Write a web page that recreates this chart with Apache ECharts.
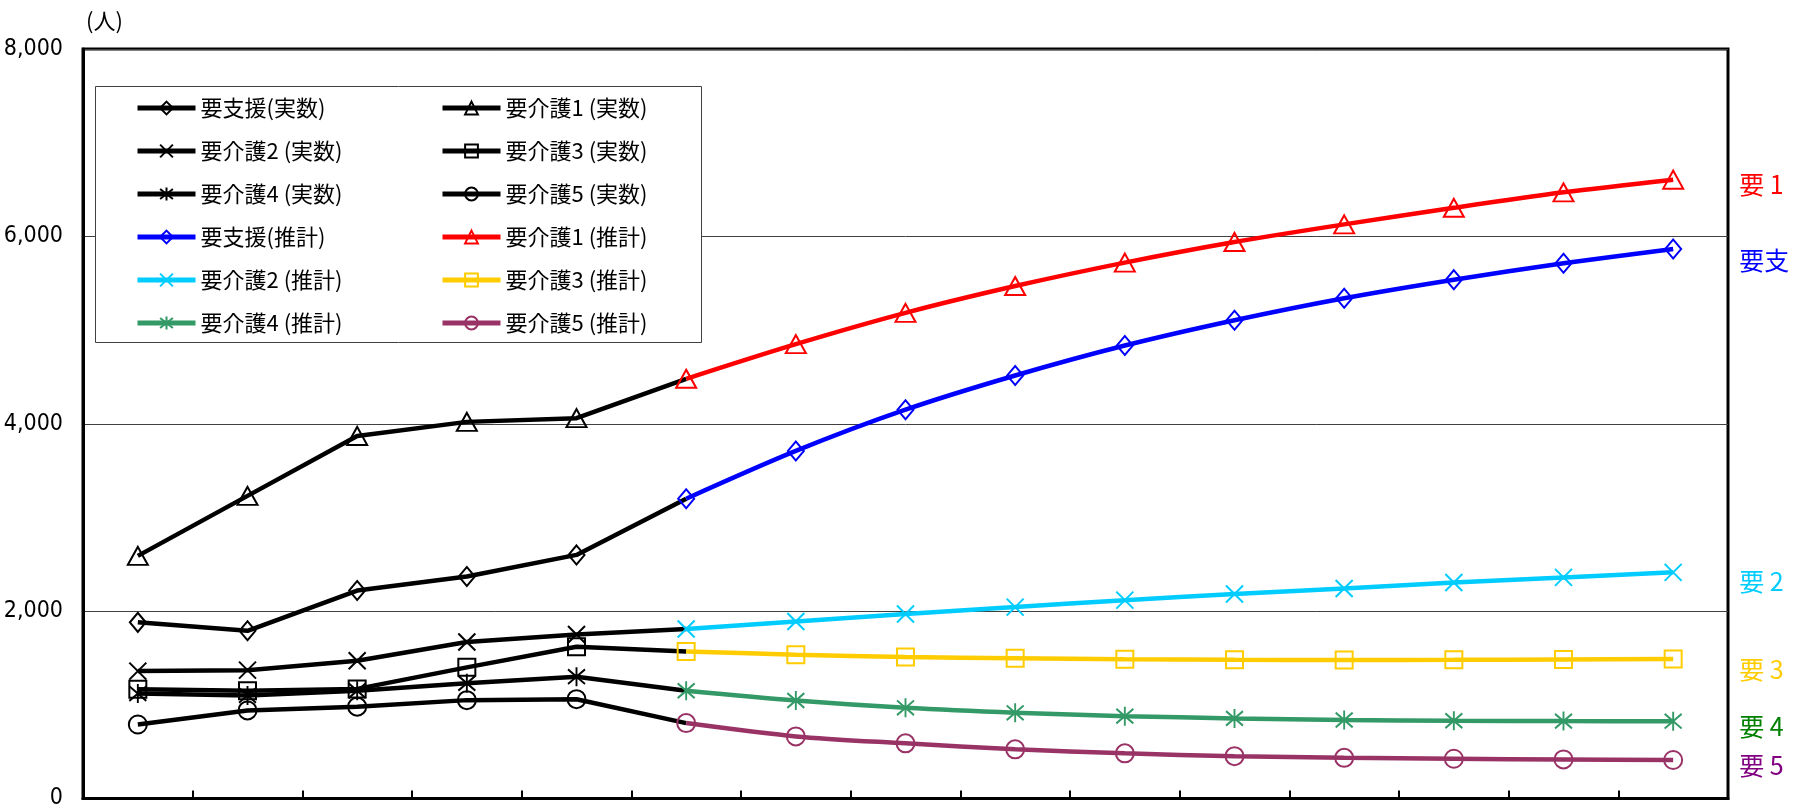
<!DOCTYPE html>
<html><head><meta charset="utf-8">
<script src="https://cdn.jsdelivr.net/npm/echarts@6/dist/echarts.min.js"></script>
<style>html,body{margin:0;padding:0;background:#fff}#c{width:1796px;height:810px}</style>
</head><body><div id="c"></div>
<script>
const categories = ['1','2','3','4','5','6','7','8','9','10','11','12','13','14','15'];
const yTicks = [0, 2000, 4000, 6000, 8000];

// 実数 (actual) – last entry is the first estimate point (line joins it)
const yoshienAct = [1880, 1790, 2220, 2370, 2600, 3200];
const kaigo1Act  = [2590, 3230, 3870, 4020, 4060, 4480];
const kaigo2Act  = [1360, 1370, 1470, 1670, 1750, 1810];
const kaigo3Act  = [1165, 1150, 1170, 1400, 1620, 1570];
const kaigo4Act  = [1120, 1100, 1150, 1230, 1300, 1150];
const kaigo5Act  = [790, 940, 980, 1050, 1060, 805];

// 推計 (estimate) – from category 6 to 15
const yoshienEst = [3200, 3710, 4150, 4515, 4835, 5105, 5340, 5538, 5713, 5865];
const kaigo1Est  = [4480, 4850, 5184, 5470, 5720, 5940, 6128, 6305, 6470, 6605];
const kaigo2Est  = [1810, 1890, 1970, 2043, 2117, 2182, 2242, 2305, 2360, 2414];
const kaigo3Est  = [1570, 1535, 1510, 1496, 1486, 1480, 1478, 1480, 1484, 1488];
const kaigo4Est  = [1150, 1046, 968, 915, 879, 855, 838, 830, 826, 825];
const kaigo5Est  = [805, 663, 589, 525, 482, 452, 434, 424, 417, 411];

const actNames = ['要支援(実数)','要介護1 (実数)','要介護2 (実数)','要介護3 (実数)','要介護4 (実数)','要介護5 (実数)'];
const estNames = ['要支援(推計)','要介護1 (推計)','要介護2 (推計)','要介護3 (推計)','要介護4 (推計)','要介護5 (推計)'];
const endLabels = ['要支','要 1','要 2','要 3','要 4','要 5'];

const X_PATH = 'path://M0,0L10,10M10,0L0,10';
const STAR_PATH = 'path://M0,0L10,10M10,0L0,10M5,-1.5L5,11.5';
const symbols = ['diamond','triangle',X_PATH,'rect',STAR_PATH,'circle'];
const symSizes = [[16,19],[20,18],[17,17],[17,17],[17,19],[18,18]];
const estColors = ['#0000FF','#FF0000','#00CCFF','#FFCC00','#339966','#993366'];
const labelColors = ['#0000FF','#FF0000','#00CCFF','#FFCC00','#008000','#800080'];
const labelDy = [11, 5, 9, 10, 5, 6];

const acts = [yoshienAct,kaigo1Act,kaigo2Act,kaigo3Act,kaigo4Act,kaigo5Act];
const ests = [yoshienEst,kaigo1Est,kaigo2Est,kaigo3Est,kaigo4Est,kaigo5Est];

const series = [];
acts.forEach((arr, i) => {
  const data = categories.map((c, k) => {
    if (k < arr.length - 1) return arr[k];
    if (k === arr.length - 1) return { value: arr[k], symbol: 'none' };
    return '-';
  });
  series.push({
    name: actNames[i], type: 'line', data, z: 2,
    symbol: symbols[i], symbolSize: symSizes[i],
    lineStyle: { color: '#000', width: 4.5 },
    itemStyle: { color: 'rgba(0,0,0,0)', borderColor: '#000', borderWidth: 2 },
    emphasis: { disabled: true }
  });
});
ests.forEach((arr, i) => {
  const offset = categories.length - arr.length;
  const data = categories.map((c, k) => k < offset ? '-' : arr[k - offset]);
  series.push({
    name: estNames[i], type: 'line', data, z: 3, smooth: 0.3,
    symbol: symbols[i], symbolSize: symSizes[i],
    lineStyle: { color: estColors[i], width: 4.5 },
    itemStyle: { color: 'rgba(0,0,0,0)', borderColor: estColors[i], borderWidth: 2 },
    emphasis: { disabled: true },
    endLabel: {
      show: true, formatter: endLabels[i], color: labelColors[i],
      fontSize: 25, fontFamily: 'Noto Sans CJK JP', offset: [58, labelDy[i]]
    }
  });
});

const legendText = { fontFamily: 'Noto Sans CJK JP', fontSize: 22, color: '#000', lineHeight: 24 };
const legendCommon = {
  orient: 'vertical', top: 96, padding: 0, itemGap: 19, itemWidth: 58, itemHeight: 16,
  textStyle: legendText, selectedMode: false,
  lineStyle: { width: 5 }, itemStyle: { borderWidth: 2 }
};
const chart = echarts.init(document.getElementById('c'), null, { renderer: 'canvas' });
chart.setOption({
  animation: false,
  grid: { left: 83, right: 68, top: 49, bottom: 10, show: true, borderColor: '#000', borderWidth: 3, backgroundColor: 'transparent' },
  xAxis: {
    type: 'category', data: categories, boundaryGap: true,
    axisLine: { lineStyle: { color: '#000', width: 3 } },
    axisTick: { show: true, inside: true, length: 8, lineStyle: { color: '#000', width: 2 } },
    axisLabel: { show: false },
    splitLine: { show: false }
  },
  yAxis: {
    type: 'value', min: yTicks[0], max: yTicks[yTicks.length - 1], interval: yTicks[1] - yTicks[0],
    axisLine: { show: true, lineStyle: { color: '#000', width: 3 } },
    axisTick: { show: false },
    axisLabel: {
      margin: 20, fontSize: 23, color: '#000',
      fontFamily: "'Liberation Sans Narrow', 'DejaVu Sans Condensed', 'Liberation Sans', sans-serif",
      formatter: v => v.toLocaleString('en-US')
    },
    splitLine: { show: true, lineStyle: { color: '#404040', width: 1 } }
  },
  legend: [
    Object.assign({}, legendCommon, { left: 135,
      data: [actNames[0], actNames[2], actNames[4], estNames[0], estNames[2], estNames[4]] }),
    Object.assign({}, legendCommon, { left: 440,
      data: [actNames[1], actNames[3], actNames[5], estNames[1], estNames[3], estNames[5]] })
  ],
  graphic: [
    { type: 'rect', z: 3, shape: { x: 95.5, y: 86.5, width: 606, height: 256 },
      style: { fill: '#fff', stroke: '#404040', lineWidth: 1 } },
    { type: 'text', left: 86, top: 10, z: 5,
      style: { text: '(人)', fontFamily: 'Noto Sans CJK JP', fontSize: 22, fill: '#000' } }
  ],
  series
});
</script></body></html>
